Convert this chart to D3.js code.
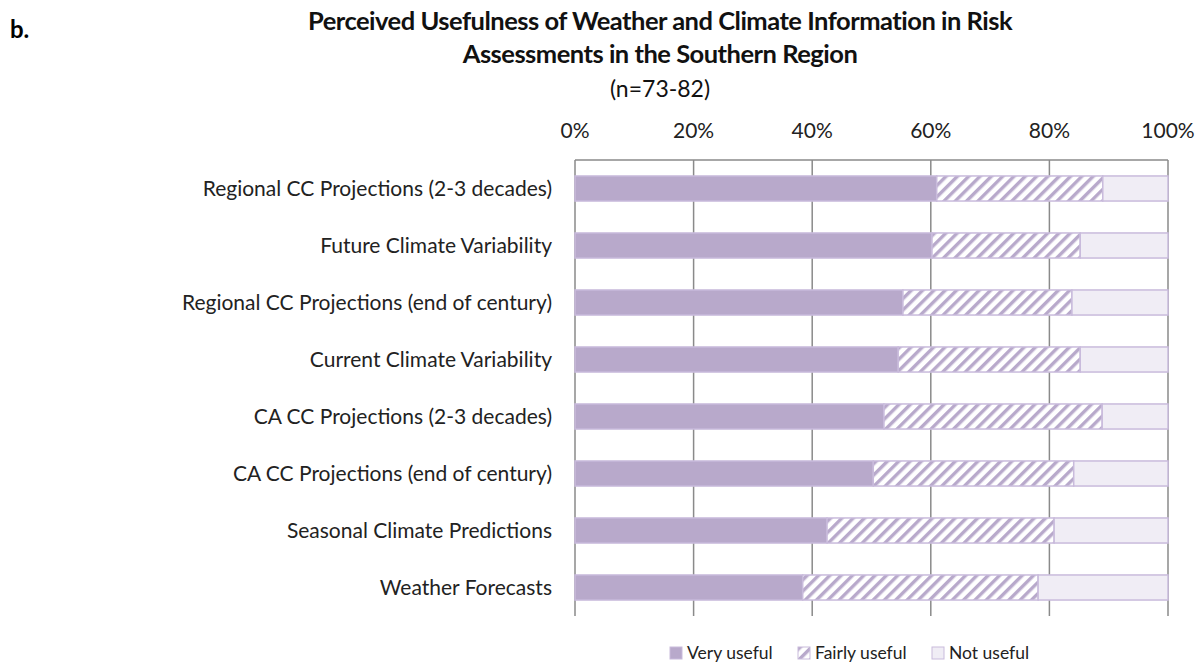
<!DOCTYPE html>
<html>
<head>
<meta charset="utf-8">
<script src="https://cdn.jsdelivr.net/npm/d3@7"></script>
<style>
  body { margin: 0; background: #fff; }
  svg { display: block; }
</style>
</head>
<body>
<svg id="chart" width="1201" height="665"></svg>
<script>
// categories, top to bottom
const categories = [
  'Regional CC Projections (2-3 decades)',
  'Future Climate Variability',
  'Regional CC Projections (end of century)',
  'Current Climate Variability',
  'CA CC Projections (2-3 decades)',
  'CA CC Projections (end of century)',
  'Seasonal Climate Predictions',
  'Weather Forecasts'
];
// shares in %
const veryUseful   = [61.0, 60.2, 55.3, 54.5, 52.1, 50.3, 42.5, 38.4];
const fairlyUseful = [28.0, 25.0, 28.5, 30.7, 36.8, 33.8, 38.3, 39.7];
const notUseful    = [11.0, 14.8, 16.2, 14.8, 11.1, 15.9, 19.2, 21.9];
const seriesNames  = ['Very useful', 'Fairly useful', 'Not useful'];
const xTicks = [0, 20, 40, 60, 80, 100];

(function () {
  const svg = d3.select('#chart');
  const font = 'Lato, "Open Sans", sans-serif';
  const purple = '#b8a9cb', edge = '#c9bbdc', pale = '#f0edf5';

  const x0 = 575, x1 = 1168, y0 = 160, y1 = 616;
  const x = d3.scaleLinear().domain([0, 100]).range([x0, x1]);
  const y = d3.scaleBand().domain(categories).range([y0, y1]).paddingInner(0.56).paddingOuter(0.28);

  // hatch for "fairly useful"
  const defs = svg.append('defs');
  const pat = defs.append('pattern')
    .attr('id', 'hatch').attr('patternUnits', 'userSpaceOnUse')
    .attr('width', 8).attr('height', 8).attr('patternTransform', 'rotate(45)');
  pat.append('rect').attr('width', 8).attr('height', 8).attr('fill', '#fff');
  pat.append('rect').attr('x', 0).attr('width', 3.4).attr('height', 8).attr('fill', purple);

  const fills = [purple, 'url(#hatch)', pale];

  // title
  svg.append('text').attr('x', 10).attr('y', 38)
    .attr('font-family', font).attr('font-weight', 700).attr('font-size', 24).text('b.');
  const tt = svg.append('g').attr('font-family', font).attr('text-anchor', 'middle').attr('fill', '#111');
  tt.append('text').attr('x', 660).attr('y', 30).attr('font-weight', 700).attr('font-size', 25.5)
    .attr('letter-spacing', '-0.5').text('Perceived Usefulness of Weather and Climate Information in Risk');
  tt.append('text').attr('x', 660).attr('y', 63).attr('font-weight', 700).attr('font-size', 25.5)
    .attr('letter-spacing', '-0.5').text('Assessments in the Southern Region');
  tt.append('text').attr('x', 660).attr('y', 97).attr('font-size', 23).text('(n=73-82)');

  // gridlines + top axis
  svg.append('g').selectAll('line').data(xTicks).join('line')
    .attr('x1', d => x(d)).attr('x2', d => x(d))
    .attr('y1', y0).attr('y2', y1)
    .attr('stroke', '#8a8a8a').attr('stroke-width', 1.5);
  svg.append('line').attr('x1', x0).attr('x2', x1).attr('y1', y0).attr('y2', y0)
    .attr('stroke', '#8a8a8a').attr('stroke-width', 1.5);

  svg.append('g').selectAll('text').data(xTicks).join('text')
    .attr('x', d => x(d)).attr('y', 138)
    .attr('text-anchor', 'middle').attr('font-family', font).attr('font-size', 21)
    .attr('fill', '#222').text(d => d + '%');

  // stacked bars
  const rows = categories.map((c, i) => ({ c, vals: [veryUseful[i], fairlyUseful[i], notUseful[i]] }));
  const stack = d3.stack().keys([0, 1, 2]).value((d, k) => d.vals[k]);
  const layers = stack(rows);

  layers.forEach((layer, k) => {
    svg.append('g').selectAll('rect').data(layer).join('rect')
      .attr('x', d => x(d[0]))
      .attr('width', d => x(Math.min(d[1], 100)) - x(d[0]))
      .attr('y', d => y(d.data.c))
      .attr('height', y.bandwidth())
      .attr('fill', fills[k])
      .attr('stroke', edge).attr('stroke-width', 1.5);
  });

  // category labels
  svg.append('g').selectAll('text').data(categories).join('text')
    .attr('x', 552).attr('y', d => y(d) + y.bandwidth() / 2 + 7)
    .attr('text-anchor', 'end').attr('font-family', font).attr('font-size', 21)
    .attr('fill', '#222').text(d => d);

  // legend
  const legendX = [670, 798, 932];
  const lg = svg.append('g').selectAll('g').data(seriesNames).join('g')
    .attr('transform', (d, i) => `translate(${legendX[i]},647)`);
  lg.append('rect').attr('width', 12).attr('height', 12)
    .attr('fill', (d, i) => fills[i]).attr('stroke', edge).attr('stroke-width', 1);
  lg.append('text').attr('x', 17).attr('y', 12)
    .attr('font-family', font).attr('font-size', 17.5).attr('fill', '#222').text(d => d);
})();
</script>
</body>
</html>
